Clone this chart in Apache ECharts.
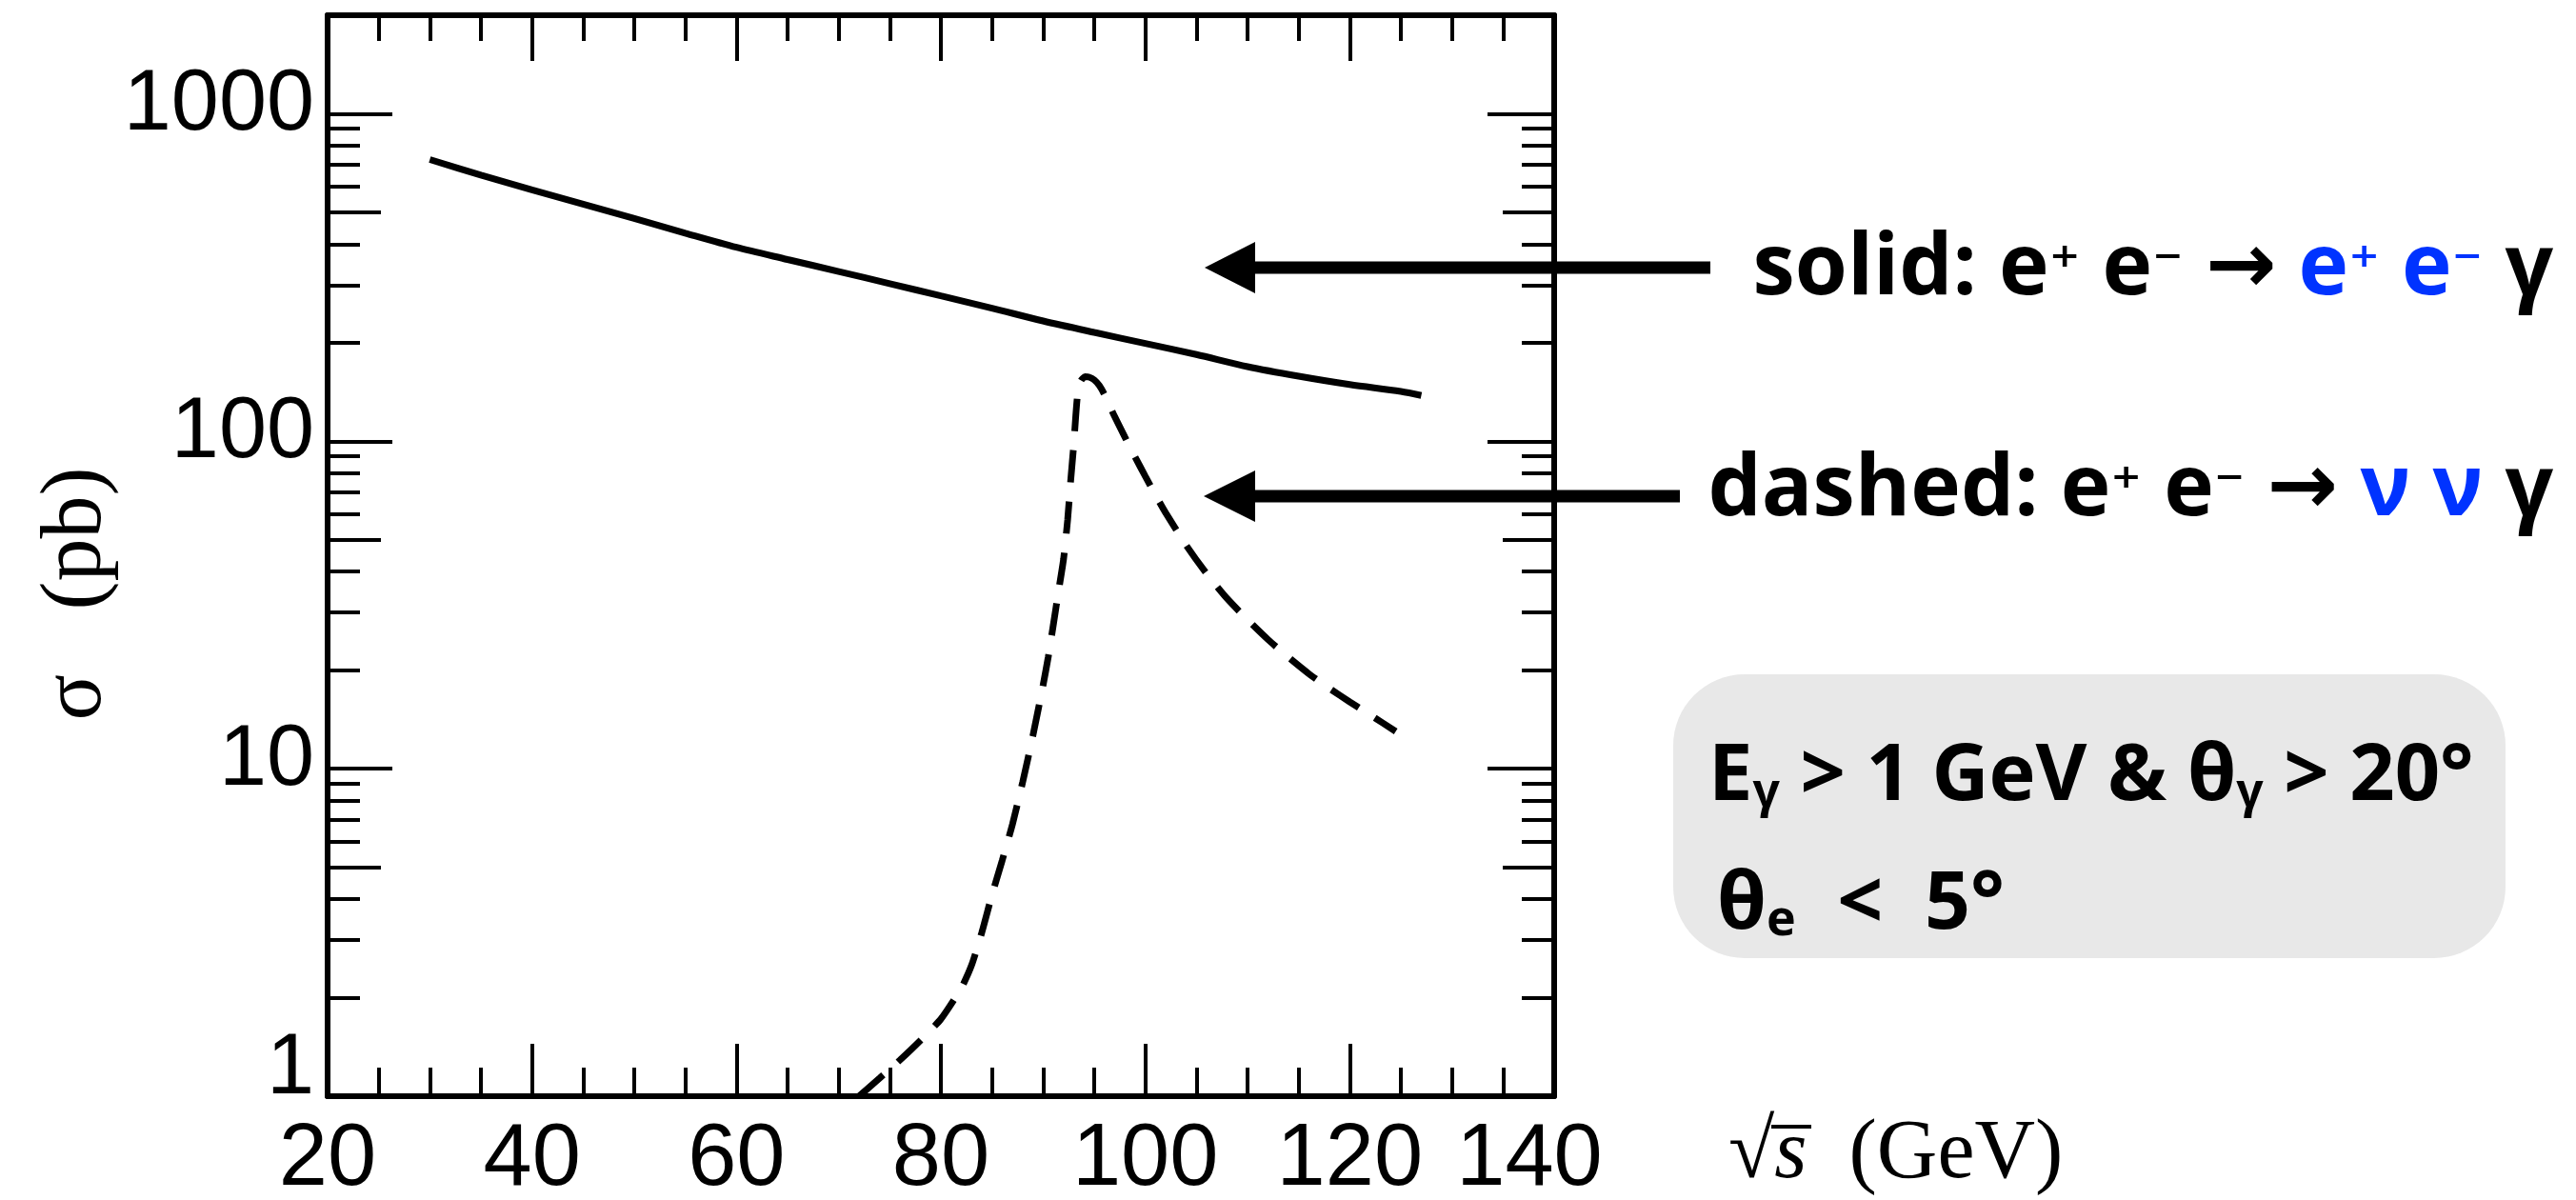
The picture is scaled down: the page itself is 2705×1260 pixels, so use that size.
<!DOCTYPE html>
<html><head><meta charset="utf-8">
<script src="https://cdn.jsdelivr.net/npm/echarts@6/dist/echarts.min.js"></script>
<style>html,body{margin:0;padding:0;background:#fff}#c{width:2705px;height:1260px}</style>
</head><body><div id="c"></div>
<script>
// ---- data ----
const solidSqrtS = [30,35,40,45,50,55,60,65,70,75,80,85,90,95,100,105,110,115,120,125,127];
const solidSigma = [725,650,586,530,479,432,391,359,330,303,278,255,233,215,199,184,169,158,149,142,138];
const dashedSqrtS = [72,74,76,78,80,82,83,84,85,86,87,88,89,90,90.5,91,91.5,92,92.4,92.7,93.0,93.2,93.4,93.7,94.1,94.5,95.0,95.5,96,97,98,99,100,101,102,104,106,108,110,112,114,116,118,120,122,124.5];
const dashedSigma = [1.0,1.135,1.29,1.48,1.72,2.14,2.51,3.16,4.12,5.25,6.76,9.1,12.6,18.0,21.9,27.5,34.7,43.6,57.5,75.9,97.7,120,141,153,157.4,157,154,148,139,119,103,89.5,78.2,68.5,60.4,48.1,39.4,33.1,28.5,24.8,21.9,19.5,17.6,16.0,14.6,13.0];
const xTickLabels = [20,40,60,80,100,120,140];
const yDecades = [1,10,100,1000];
const yFives = [5,50,500];
const yMinors = [2,3,4,6,7,8,9,20,30,40,60,70,80,90,200,300,400,600,700,800,900];

const LAB = '"Liberation Sans",Arial,sans-serif';
const SERIF = '"Liberation Serif","DejaVu Serif",serif';
const SANSB = '"Open Sans","Noto Sans","DejaVu Sans",sans-serif';
const SUPF = '"DejaVu Sans","Noto Sans",sans-serif';
const ARW = '"DejaVu Sans",sans-serif';
const BLUE = '#0033FF';

function pairs(xs, ys){ return xs.map((x,i)=>[x, ys[i]]); }

function yAx(pos, values, len, extra){
  return Object.assign({
    type:'log', logBase:10, position:pos, min:1, max:2000,
    axisLine:{show:false}, splitLine:{show:false},
    axisLabel:{show:false},
    axisTick:{show:true, inside:true, length:len, customValues:values,
      lineStyle:{color:'#000', width:4}}
  }, extra||{});
}

const chart = echarts.init(document.getElementById('c'), null, {renderer:'canvas'});
chart.setOption({
  animation:false,
  backgroundColor:'#fff',
  grid:{left:344, right:2705-1632, top:16, bottom:1260-1151, containLabel:false, outerBoundsMode:'none'},
  xAxis:[
    {type:'value', position:'bottom', min:20, max:140, interval:20,
     axisLine:{onZero:false, lineStyle:{color:'#000', width:6}},
     axisTick:{inside:true, length:55, lineStyle:{color:'#000', width:4}},
     minorTick:{show:true, splitNumber:4, length:30, lineStyle:{color:'#000', width:4}},
     splitLine:{show:false}, minorSplitLine:{show:false},
     axisLabel:{margin:22, color:'#000', fontSize:92, fontFamily:LAB,
       customValues:xTickLabels,
       formatter:v => v===140 ? '{e|'+v+'}' : '{n|'+v+'}',
       rich:{n:{fontSize:92, fontFamily:LAB, color:'#000'},
             e:{fontSize:92, fontFamily:LAB, color:'#000', padding:[0,52,0,0]}}},
     name:'{r|√}{s|s}{p|  (GeV)}', nameLocation:'end', nameGap:183,
     nameTextStyle:{color:'#000', fontFamily:SERIF, fontSize:88, align:'left', verticalAlign:'middle',
       padding:[124,0,0,0],
       rich:{r:{fontFamily:SERIF, fontSize:88, color:'#000'},
             s:{fontFamily:SERIF, fontSize:88, fontStyle:'italic', color:'#000'},
             p:{fontFamily:SERIF, fontSize:88, color:'#000'}}}
    },
    {type:'value', position:'top', min:20, max:140, interval:20,
     axisLine:{onZero:false, lineStyle:{color:'#000', width:6}},
     axisTick:{inside:true, length:48, lineStyle:{color:'#000', width:4}},
     minorTick:{show:true, splitNumber:4, length:27, lineStyle:{color:'#000', width:4}},
     splitLine:{show:false}, minorSplitLine:{show:false},
     axisLabel:{show:false}}
  ],
  yAxis:[
    yAx('left', yDecades, 68, {
      axisLine:{show:true, onZero:false, lineStyle:{color:'#000', width:6}},
      axisLabel:{show:true, margin:14, customValues:yDecades, color:'#000', fontSize:90, fontFamily:LAB,
        formatter:v => v===1 ? '{o|1}' : '{n|'+v+'}',
        rich:{n:{fontSize:90, fontFamily:LAB, color:'#000', padding:[0,0,16,0]},
              o:{fontSize:90, fontFamily:LAB, color:'#000', padding:[0,0,56,0]}}},
      name:'σ   (pb)', nameLocation:'middle', nameGap:212, nameRotate:90,
      nameTextStyle:{color:'#000', fontFamily:SERIF, fontSize:90, padding:[0,80,0,0]}
    }),
    yAx('left', yFives, 56),
    yAx('left', yMinors, 34),
    yAx('right', yDecades, 70, {axisLine:{show:true, onZero:false, lineStyle:{color:'#000', width:6}}}),
    yAx('right', yFives, 54),
    yAx('right', yMinors, 34)
  ],
  series:[
    {name:'solid: e+e- → e+e-γ', type:'line', xAxisIndex:0, yAxisIndex:0,
     data:pairs(solidSqrtS, solidSigma), showSymbol:false, smooth:0.3,
     lineStyle:{color:'#000', width:7}},
    {name:'dashed: e+e- → ννγ', type:'line', xAxisIndex:0, yAxisIndex:0,
     data:pairs(dashedSqrtS, dashedSigma), showSymbol:false, smooth:0.2,
     lineStyle:{color:'#000', width:7, type:[34,20]}}
  ],
  graphic:[
    {type:'rect', z:0, shape:{x:1757, y:708, width:874, height:298, r:75}, style:{fill:'#E8E8E8'}},
    {type:'line', shape:{x1:1314, y1:281, x2:1796, y2:281}, style:{stroke:'#000', lineWidth:13}},
    {type:'polygon', shape:{points:[[1265,281],[1318,254],[1318,308]]}, style:{fill:'#000'}},
    {type:'line', shape:{x1:1314, y1:521, x2:1764, y2:521}, style:{stroke:'#000', lineWidth:13}},
    {type:'polygon', shape:{points:[[1264,521],[1318,494],[1318,548]]}, style:{fill:'#000'}},
    {type:'line', shape:{x1:1860, y1:1183, x2:1902, y2:1183}, style:{stroke:'#000', lineWidth:4}},
    {type:'text', x:2681, y:284, style:{
      text:'{b|solid: e}{sp|⁺}{b| e}{sp|⁻}{b| }{ar|→}{b| }{bl|e}{bsp|⁺}{b| }{bl|e}{bsp|⁻}{b| γ}',
      align:'right', verticalAlign:'middle',
      rich:{b:{font:'bold 89px '+SANSB, fill:'#000'},
            ar:{font:'bold 89px '+ARW, fill:'#000'},
            sp:{font:'bold 62px '+SUPF, fill:'#000'},
            bl:{font:'bold 89px '+SANSB, fill:BLUE},
            bsp:{font:'bold 62px '+SUPF, fill:BLUE}}}},
    {type:'text', x:2681, y:516, style:{
      text:'{b|dashed: e}{sp|⁺}{b| e}{sp|⁻}{b| }{ar|→}{b| }{bl|ν ν}{b| γ}',
      align:'right', verticalAlign:'middle',
      rich:{b:{font:'bold 89px '+SANSB, fill:'#000'},
            ar:{font:'bold 89px '+ARW, fill:'#000'},
            sp:{font:'bold 62px '+SUPF, fill:'#000'},
            bl:{font:'bold 89px '+SANSB, fill:BLUE}}}},
    {type:'text', x:1794, y:816, style:{
      text:'{b|E}{sb|γ}{b| > 1 GeV & θ}{sb|γ}{b| > 20°}',
      align:'left', verticalAlign:'middle',
      rich:{b:{font:'bold 83px '+SANSB, fill:'#000'},
            sb:{font:'bold 50px '+SANSB, fill:'#000', verticalAlign:'bottom'}}}},
    {type:'text', x:1803, y:951, style:{
      text:'{b|θ}{sb|e}{b|  <  5°}',
      align:'left', verticalAlign:'middle',
      rich:{b:{font:'bold 84px '+SANSB, fill:'#000'},
            sb:{font:'bold 52px '+SANSB, fill:'#000', verticalAlign:'bottom'}}}}
  ]
});
</script></body></html>
